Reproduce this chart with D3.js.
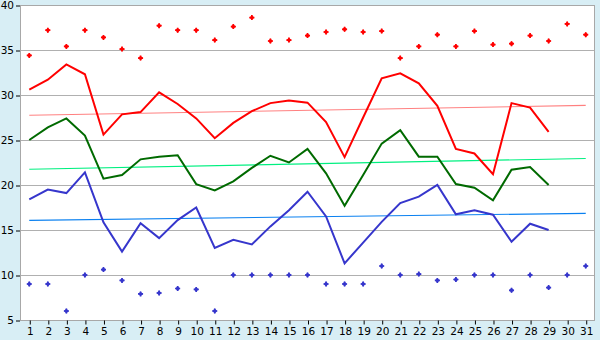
<html>
<head>
  <script src="https://d3js.org/d3.v7.min.js"></script>
  <style>
    body { margin: 0; background: #d8eef5; }
    text { font-family: "DejaVu Sans", Verdana, sans-serif; font-size: 10.5px; fill: #000; }
  </style>
</head>
<body>
  <svg id="chart" width="600" height="340" style="display:block"></svg>
  <script>
    // day labels on the x axis
    let days = [1,2,3,4,5,6,7,8,9,10,11,12,13,14,15,16,17,18,19,20,21,22,23,24,25,26,27,28,29,30,31];
    let yTicks = [5,10,15,20,25,30,35,40];

    // record highs / lows (points)
    let maxPoints = [34.4,37.2,35.4,37.2,36.4,35.1,34.1,37.7,37.2,37.2,36.1,37.6,38.6,36.0,36.1,36.6,37.0,37.3,37.0,37.1,34.1,35.4,36.7,35.4,37.1,35.6,35.7,36.6,36.0,37.9,36.7];
    let minPoints = [9.0,9.0,6.0,10.0,10.6,9.4,7.9,8.0,8.5,8.4,6.0,10.0,10.0,10.0,10.0,10.0,9.0,9.0,9.0,11.0,10.0,10.1,9.4,9.5,10.0,10.0,8.3,10.0,8.6,10.0,11.0];

    // daily lines (days 1-29)
    let maxLine = [30.6,31.7,33.4,32.3,25.6,27.85,28.1,30.3,29.0,27.4,25.2,26.9,28.2,29.1,29.4,29.15,27.0,23.1,27.5,31.85,32.4,31.3,28.8,24.0,23.5,21.2,29.1,28.6,25.9];
    let meanLine = [25.0,26.4,27.4,25.5,20.7,21.1,22.85,23.15,23.3,20.1,19.4,20.4,21.9,23.25,22.5,24.0,21.3,17.7,21.1,24.6,26.1,23.15,23.15,20.1,19.7,18.3,21.7,22.0,20.0];
    let minLine = [18.4,19.5,19.1,21.4,15.85,12.6,15.75,14.1,16.1,17.5,13.0,13.9,13.4,15.4,17.2,19.25,16.5,11.3,13.6,15.9,18.0,18.7,20.0,16.75,17.2,16.7,13.7,15.7,15.0];

    // trend lines, value at day 1 and day 31
    let maxTrend = [27.75, 28.85];
    let meanTrend = [21.75, 22.95];
    let minTrend = [16.07, 16.85];

    let svg = d3.select("#chart");
    let pl = 20, pt = 5, pr = 595, pb = 320;

    let x = d3.scalePoint().domain(days).range([pl, pr]).padding(0.5);
    let y = d3.scaleLinear().domain([5, 40]).range([pb, pt]);

    // plot background
    svg.append("rect")
      .attr("x", pl).attr("y", pt)
      .attr("width", pr - pl).attr("height", pb - pt)
      .attr("fill", "#fff");

    // gridlines
    svg.append("g").selectAll("line").data(yTicks).join("line")
      .attr("x1", pl).attr("x2", pr)
      .attr("y1", d => Math.round(y(d)) + 0.5).attr("y2", d => Math.round(y(d)) + 0.5)
      .attr("stroke", "#b0b0b0");

    // border
    svg.append("rect")
      .attr("x", pl + 0.5).attr("y", pt + 0.5)
      .attr("width", pr - pl - 1).attr("height", pb - pt)
      .attr("fill", "none").attr("stroke", "#a8a8a8");

    // axes
    let yAxis = svg.append("g")
      .attr("transform", `translate(${pl},0.5)`)
      .call(d3.axisLeft(y).tickValues(yTicks).tickSize(4).tickPadding(2));
    yAxis.select(".domain").remove();

    let xAxis = svg.append("g")
      .attr("transform", `translate(0.5,${pb + 0.5})`)
      .call(d3.axisBottom(x).tickSize(4).tickPadding(3));
    xAxis.select(".domain").remove();
    svg.selectAll(".tick text").style("font-size", "10.5px");

    // trend lines
    let trends = [[maxTrend, "#ff8080"], [meanTrend, "#00f080"], [minTrend, "#0a80f0"]];
    trends.forEach(([t, c]) => {
      svg.append("line")
        .attr("x1", x(days[0])).attr("x2", x(days[days.length - 1]))
        .attr("y1", y(t[0])).attr("y2", y(t[1]))
        .attr("stroke", c).attr("stroke-width", 1.1);
    });

    // daily lines
    let line = d3.line().x((d, i) => x(days[i])).y(d => y(d));
    let series = [[maxLine, "#ff0000"], [meanLine, "#006a00"], [minLine, "#3636cc"]];
    series.forEach(([s, c]) => {
      svg.append("path")
        .attr("d", line(s))
        .attr("fill", "none").attr("stroke", c).attr("stroke-width", 2);
    });

    // points: small plus/diamond blobs
    let cross = d3.symbol().type(d3.symbolCross).size(14);
    let square = d3.symbol().type(d3.symbolSquare).size(12);
    [[maxPoints, "#ff0000"], [minPoints, "#3636cc"]].forEach(([pts, c]) => {
      let g = svg.append("g").selectAll("g").data(pts).join("g")
        .attr("transform", (d, i) => `translate(${x(days[i])},${y(d)})`)
        .attr("fill", c);
      g.append("path").attr("d", cross);
      g.append("path").attr("d", square).attr("transform", "rotate(45)");
    });
  </script>
</body>
</html>
